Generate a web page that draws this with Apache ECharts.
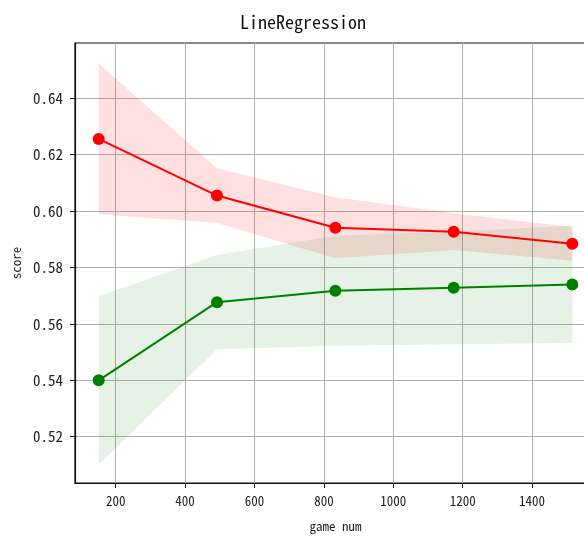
<!DOCTYPE html>
<html lang="en">
<head>
    <meta charset="UTF-8">
    <title>LineRegression</title>
    <style>
        html,body{
            width: 100%;
            height: 100%;
            margin: 0;
            padding: 0;
            background: #fff;
        }
    </style>
</head>
<body>
<div id="main" style="width: 584px;height:536px;"></div>

<script src="https://cdn.jsdelivr.net/npm/echarts@6/dist/echarts.min.js"></script>
<script>
    // 训练样本数
    var trainSizes = [151, 492, 833, 1174, 1516];
    // 训练集得分 (均值 / 标准差)
    var trainMean = [0.6256, 0.6055, 0.5941, 0.5927, 0.5884];
    var trainStd = [0.0267, 0.0097, 0.0108, 0.0065, 0.0060];
    // 交叉验证得分
    var testMean = [0.5400, 0.5677, 0.5718, 0.5728, 0.5740];
    var testStd = [0.0298, 0.0167, 0.0195, 0.0200, 0.0208];
    // 刻度
    var xTicks = [200, 400, 600, 800, 1000, 1200, 1400];
    var yTicks = [0.52, 0.54, 0.56, 0.58, 0.60, 0.62, 0.64];

    var font = '"Noto Sans Mono CJK SC", "Noto Sans CJK SC", sans-serif';

    function pairs(ys) {
        return trainSizes.map(function (x, i) { return [x, ys[i]]; });
    }
    // [x, 下界, 上界]
    function band(mean, std) {
        return trainSizes.map(function (x, i) { return [x, mean[i] - std[i], mean[i] + std[i]]; });
    }

    // 画 fill_between 的多边形
    function bandSeries(data, color) {
        return {
            type: 'custom',
            data: data,
            silent: true,
            z: 1,
            encode: {x: 0, y: [1, 2]},
            renderItem: function (params, api) {
                if (params.dataIndex !== 0) return;
                var top = [], bottom = [];
                data.forEach(function (d) {
                    top.push(api.coord([d[0], d[2]]));
                    bottom.unshift(api.coord([d[0], d[1]]));
                });
                return {
                    type: 'polygon',
                    shape: {points: top.concat(bottom)},
                    style: {fill: color}
                };
            }
        };
    }

    var myChart = echarts.init(document.getElementById('main'));

    var option = {
        animation: false,
        backgroundColor: '#fff',
        title: {
            text: 'LineRegression',
            left: 298,
            top: 8,
            textAlign: 'center',
            textStyle: {fontFamily: font, fontSize: 18, fontWeight: 'normal', color: '#111'}
        },
        grid: {
            left: 75, right: -12, top: 43, bottom: 53,
            outerBoundsMode: 'none', containLabel: false,
            show: true, borderColor: '#111', borderWidth: 1.2
        },
        xAxis: {
            type: 'value',
            min: 82.75,
            max: 1584.25,
            name: 'game num',
            nameLocation: 'middle',
            nameGap: 37,
            nameTextStyle: {fontFamily: font, fontSize: 13, color: '#222'},
            axisLine: {show: true, onZero: false, lineStyle: {color: '#111', width: 1.2}},
            axisTick: {show: true, length: 5, customValues: xTicks, lineStyle: {color: '#111'}},
            axisLabel: {
                customValues: xTicks, margin: 12, fontFamily: font, fontSize: 13, color: '#222',
                formatter: function (v) { return String(v); }
            },
            splitLine: {show: true, lineStyle: {color: '#b0b0b0', width: 1}}
        },
        yAxis: {
            type: 'value',
            min: 0.5036,
            max: 0.6596,
            name: 'score',
            nameLocation: 'middle',
            nameGap: 50,
            nameTextStyle: {fontFamily: font, fontSize: 13, color: '#222'},
            axisLine: {show: true, onZero: false, lineStyle: {color: '#111', width: 1.2}},
            axisTick: {show: true, length: 5, customValues: yTicks, lineStyle: {color: '#111'}},
            axisLabel: {
                customValues: yTicks, margin: 12, fontFamily: font, fontSize: 15, color: '#222',
                formatter: function (v) { return v.toFixed(2); }
            },
            splitLine: {show: true, lineStyle: {color: '#b0b0b0', width: 1}}
        },
        series: [
            bandSeries(band(trainMean, trainStd), 'rgba(255,0,0,0.12)'),
            bandSeries(band(testMean, testStd), 'rgba(0,128,0,0.1)'),
            // 均值曲线
            {
                type: 'line', data: pairs(trainMean), z: 5,
                symbol: 'circle', symbolSize: 12,
                lineStyle: {color: '#ff0000', width: 2},
                itemStyle: {color: '#ff0000'}
            },
            {
                type: 'line', data: pairs(testMean), z: 5,
                symbol: 'circle', symbolSize: 12,
                lineStyle: {color: '#008000', width: 2},
                itemStyle: {color: '#008000'}
            }
        ]
    };

    myChart.setOption(option);
</script>
</body>
</html>
